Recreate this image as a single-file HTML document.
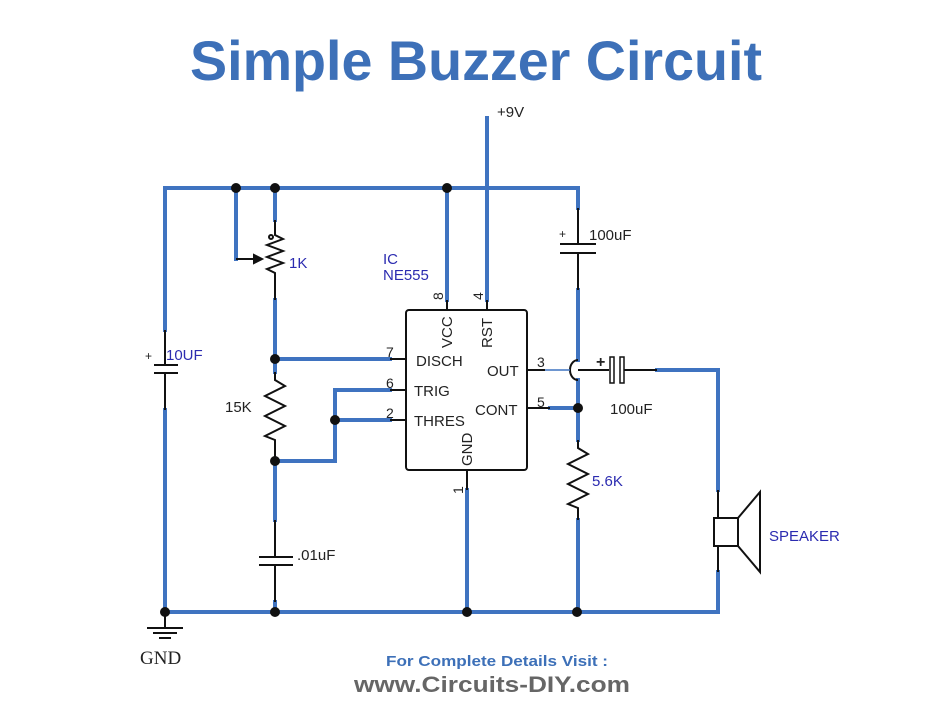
<!DOCTYPE html>
<html><head><meta charset="utf-8"><style>
html,body{margin:0;padding:0;background:#fff;}
svg{display:block;}
text{font-family:"Liberation Sans",Arial,sans-serif;}
</style></head><body>
<svg width="940" height="720" viewBox="0 0 940 720" xmlns="http://www.w3.org/2000/svg">
<rect width="940" height="720" fill="#fff"/>
<text x="476" y="80" text-anchor="middle" font-size="56" font-weight="bold" fill="#3d70b8" textLength="572" lengthAdjust="spacingAndGlyphs">Simple Buzzer Circuit</text>

<g stroke="#3f73c0" stroke-width="4" fill="none" stroke-linecap="square">
<path d="M165 330 V188 H578 V208"/>
<path d="M487 118 V300"/>
<path d="M447 188 V300"/>
<path d="M236 188 V259"/>
<path d="M275 188 V220"/>
<path d="M275 300 V372"/>
<path d="M275 359 H390"/>
<path d="M275 461 H335 V390 H390"/>
<path d="M335 420 H390"/>
<path d="M275 461 V520"/>
<path d="M275 602 V612"/>
<path d="M165 410 V612 H718 V572"/>
<path d="M467 490 V612"/>
<path d="M578 290 V360"/>
<path d="M578 380 V440"/>
<path d="M550 408 H578"/>
<path d="M578 520 V612"/>
<path d="M657 370 H718 V490"/>
</g>

<g stroke="#111" stroke-width="2" fill="none">
<rect x="406" y="310" width="121" height="160" rx="3"/>
<path d="M447 300 V310 M487 300 V310 M390 359 H406 M390 390 H406 M390 420 H406 M527 370 H545 M527 408 H550 M467 470 V490"/>
<path d="M275 220 V235 l8 4 l-16 6 l16 6 l-16 6 l16 6 l-16 6 l8 4 V300"/>
<path d="M236 259 H260"/>
<path d="M262 259 l-8 -4 v8 z" fill="#111"/>
<circle cx="271" cy="237" r="2"/>
<path d="M275 372 V380 l10 6 l-20 10 l20 10 l-20 10 l20 10 l-20 10 l10 4 V461"/>
<path d="M275 520 V557 M259 557 H293 M259 565 H293 M275 565 V602"/>
<path d="M165 330 V365 M154 365 H178 M154 373 H178 M165 373 V410"/>
<path d="M578 208 V244 M560 244 H596 M560 253 H596 M578 253 V290"/>
<path d="M578 360 a8 10 0 0 0 0 20"/>
<path d="M545 370 H570" stroke="#3f73c0" stroke-width="1.5"/>
<path d="M578 370 H609 M624 370 H657"/>
<rect x="610" y="357" width="4" height="26" stroke-width="1.5"/>
<rect x="620" y="357" width="4" height="26" stroke-width="1.5"/>
<path d="M578 440 V448 l10 6 l-20 10 l20 10 l-20 10 l20 10 l-20 10 l10 4 V520"/>
<path d="M718 490 V518 M718 546 V572"/>
<rect x="714" y="518" width="24" height="28"/>
<path d="M738 518 L760 492 V572 L738 546"/>
<path d="M165 612 V628 M147 628 H183 M153 633 H177 M159 638 H171"/>
</g>
<g fill="#111">
<circle cx="165" cy="612" r="5"/><circle cx="275" cy="612" r="5"/><circle cx="467" cy="612" r="5"/><circle cx="577" cy="612" r="5"/>
<circle cx="236" cy="188" r="5"/><circle cx="275" cy="188" r="5"/><circle cx="447" cy="188" r="5"/>
<circle cx="275" cy="359" r="5"/><circle cx="275" cy="461" r="5"/><circle cx="335" cy="420" r="5"/><circle cx="578" cy="408" r="5"/>
</g>

<g font-size="15" fill="#222">
<text x="497" y="117">+9V</text>
<text x="416" y="366">DISCH</text>
<text x="414" y="396">TRIG</text>
<text x="414" y="426">THRES</text>
<text x="487" y="376">OUT</text>
<text x="475" y="415">CONT</text>
<text x="386" y="357" font-size="14">7</text>
<text x="386" y="388" font-size="14">6</text>
<text x="386" y="418" font-size="14">2</text>
<text x="537" y="367" font-size="14">3</text>
<text x="537" y="407" font-size="14">5</text>
<text transform="translate(452,348) rotate(-90)">VCC</text>
<text transform="translate(492,348) rotate(-90)">RST</text>
<text transform="translate(472,466) rotate(-90)">GND</text>
<text transform="translate(443,300) rotate(-90)" font-size="14">8</text>
<text transform="translate(483,300) rotate(-90)" font-size="14">4</text>
<text transform="translate(463,494) rotate(-90)" font-size="14">1</text>
<text x="225" y="412">15K</text>
<text x="297" y="560">.01uF</text>
<text x="589" y="240">100uF</text>
<text x="559" y="238" font-size="12">+</text>
<text x="610" y="414">100uF</text>
<text x="596" y="367" font-size="16" font-weight="bold">+</text>
<text x="145" y="360" font-size="12">+</text>
</g>
<g font-size="15" fill="#2b2bb0">
<text x="289" y="268">1K</text>
<text x="383" y="264">IC</text>
<text x="383" y="280">NE555</text>
<text x="166" y="360">10UF</text>
<text x="592" y="486">5.6K</text>
<text x="769" y="541">SPEAKER</text>
</g>
<text x="140" y="664" font-size="19" style="font-family:'Liberation Serif',serif" fill="#222">GND</text>
<text x="497" y="666" text-anchor="middle" font-size="15" font-weight="bold" fill="#3d70b8" textLength="222" lengthAdjust="spacingAndGlyphs">For Complete Details Visit :</text>
<text x="492" y="692" text-anchor="middle" font-size="22" font-weight="bold" fill="#666" textLength="276" lengthAdjust="spacingAndGlyphs">www.Circuits-DIY.com</text>
</svg>
</body></html>
